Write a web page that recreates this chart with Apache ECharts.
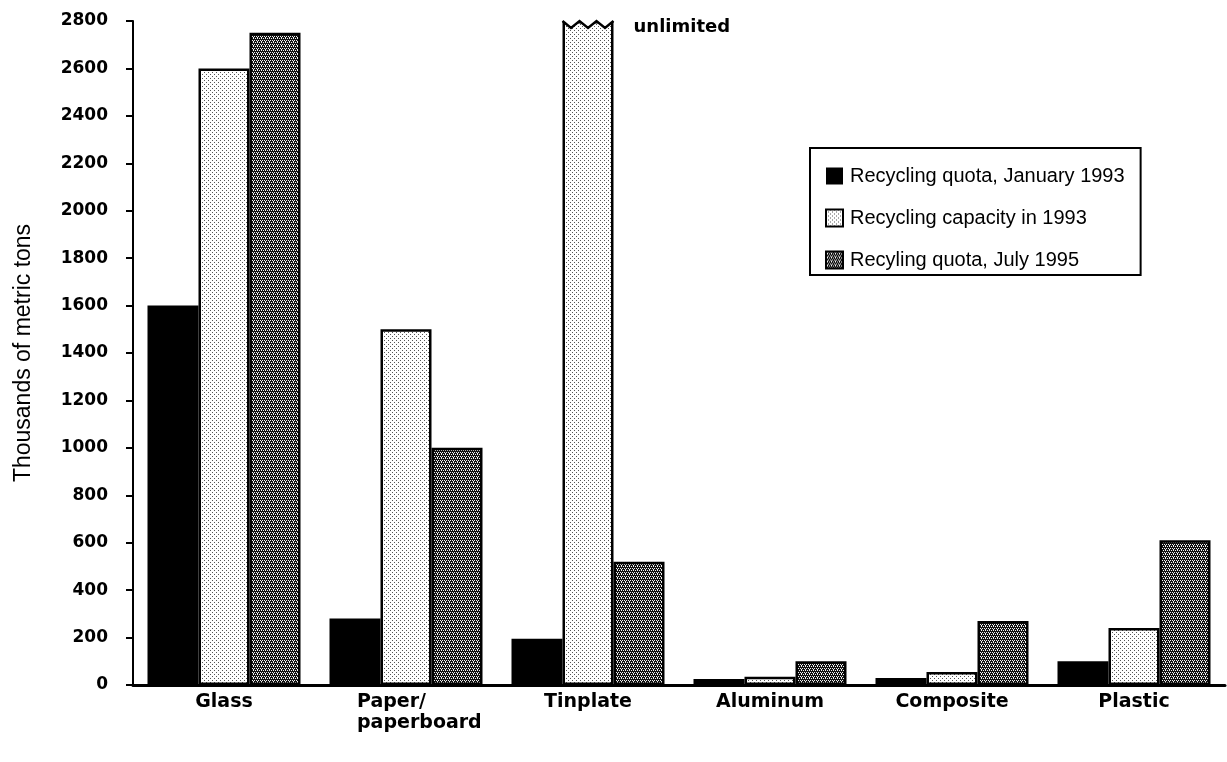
<!DOCTYPE html>
<html>
<head>
<meta charset="utf-8">
<script src="https://cdn.jsdelivr.net/npm/echarts@6/dist/echarts.min.js"></script>
<style>
  html, body { margin: 0; padding: 0; background: #fff; }
  #chart { width: 1227px; height: 762px; }
</style>
</head>
<body>
<div id="chart"></div>
<script>
// Packaging materials: recycling quotas and capacity (thousands of metric tons)
const categories = ['Glass', 'Paper/\npaperboard', 'Tinplate', 'Aluminum', 'Composite', 'Plastic'];
const quotaJan1993 = [1600, 280, 195, 25, 30, 100];
// Tinplate capacity is unlimited: the bar runs to the top of the axis and gets a break mark
const capacity1993 = [2600, 1500, 2800, 35, 55, 240];
const quotaJul1995 = [2750, 1000, 520, 100, 270, 610];
const seriesNames = ['Recycling quota, January 1993', 'Recycling capacity in 1993', 'Recyling quota, July 1995'];
const yTicks = { min: 0, max: 2800, interval: 200 };
const unlimitedCategory = 'Tinplate';
const unlimitedText = 'unlimited';

// Screen-tone fills
function makeTone(size, bg, fg, pts) {
  const c = document.createElement('canvas');
  c.width = size; c.height = size;
  const g = c.getContext('2d');
  g.fillStyle = bg; g.fillRect(0, 0, size, size);
  g.fillStyle = fg;
  pts.forEach(p => g.fillRect(p[0], p[1], 1, 1));
  return { image: c, repeat: 'repeat' };
}
const lightTone = makeTone(4, '#ffffff', '#555555', [[0, 0], [2, 2]]);
const darkTone = makeTone(4, '#111111', '#f2f2f2', [[0, 0], [2, 0], [1, 2], [3, 2], [1, 1]]);

const BAR_W = 51;
const boldFont = '"DejaVu Sans", sans-serif';
const plainFont = '"Liberation Sans", Arial, sans-serif';

const chart = echarts.init(document.getElementById('chart'), null, { renderer: 'canvas' });

const barBase = {
  type: 'bar',
  barWidth: BAR_W,
  barGap: '0%',
  animation: false
};

chart.setOption({
  backgroundColor: '#ffffff',
  animation: false,
  grid: { left: 133, right: 2, top: 21, bottom: 77, containLabel: false },
  legend: {
    data: seriesNames,
    orient: 'vertical',
    left: 810,
    top: 148,
    padding: [18, 16, 5, 15],
    itemGap: 22,
    itemWidth: 17,
    itemHeight: 17,
    borderColor: '#000',
    borderWidth: 2,
    backgroundColor: '#fff',
    icon: 'rect',
    textStyle: { fontFamily: plainFont, fontSize: 20, color: '#000', padding: [0, 0, 0, 2] }
  },
  xAxis: {
    type: 'category',
    data: categories,
    axisLine: { lineStyle: { color: '#000', width: 3 } },
    axisTick: { show: false },
    axisLabel: {
      interval: 0,
      margin: 7,
      color: '#000',
      fontFamily: boldFont,
      fontWeight: 'bold',
      fontSize: 19,
      lineHeight: 21,
      formatter: v => v.indexOf('\n') >= 0 ? v.split('\n').map(s => '{l|' + s + '}').join('\n') : v,
      rich: {
        l: { width: 124, align: 'left', padding: [0, 0, 0, 26], fontFamily: boldFont, fontWeight: 'bold', fontSize: 19, lineHeight: 21, color: '#000' }
      }
    }
  },
  yAxis: {
    type: 'value',
    min: yTicks.min,
    max: yTicks.max,
    interval: yTicks.interval,
    name: 'Thousands of metric tons',
    nameLocation: 'middle',
    nameGap: 98,
    nameRotate: 90,
    nameTextStyle: { fontFamily: plainFont, fontSize: 23, color: '#000' },
    splitLine: { show: false },
    axisLine: { show: true, lineStyle: { color: '#000', width: 2 } },
    axisTick: { show: true, inside: false, length: 7, lineStyle: { color: '#000', width: 2 } },
    axisLabel: {
      margin: 25, color: '#000', fontFamily: boldFont, fontWeight: 'bold', fontSize: 17,
      formatter: v => String(v)
    }
  },
  series: [
    Object.assign({}, barBase, {
      name: seriesNames[0],
      data: quotaJan1993,
      itemStyle: { color: '#000', borderColor: '#000', borderWidth: 0 }
    }),
    Object.assign({}, barBase, {
      name: seriesNames[1],
      data: capacity1993,
      itemStyle: { color: lightTone, borderColor: '#000', borderWidth: 2.5 }
    }),
    Object.assign({}, barBase, {
      name: seriesNames[2],
      data: quotaJul1995,
      itemStyle: { color: darkTone, borderColor: '#000', borderWidth: 2.5 }
    }),
    {
      // break mark on the unlimited capacity bar, plus its note
      type: 'custom',
      name: 'break',
      z: 10,
      silent: true,
      animation: false,
      data: [[unlimitedCategory, capacity1993[categories.indexOf(unlimitedCategory)]]],
      renderItem: function (params, api) {
        const p = api.coord([api.value(0), api.value(1)]);
        const x0 = p[0] - BAR_W / 2, x1 = p[0] + BAR_W / 2, top = p[1];
        const depth = 7;
        const zig = [];
        const n = 3;
        for (let i = 0; i <= n * 2; i++) {
          zig.push([x0 + (x1 - x0) * i / (n * 2), top + (i % 2 ? depth : 0)]);
        }
        const cover = [[x0 - 3, top - 4], [x1 + 3, top - 4], [x1 + 3, top]].concat(zig.slice().reverse());
        cover.push([x0 - 3, top]);
        return {
          type: 'group',
          children: [
            { type: 'polygon', shape: { points: cover }, style: { fill: '#fff', stroke: null } },
            { type: 'polyline', shape: { points: zig }, style: { stroke: '#000', lineWidth: 2.5, fill: null } },
            {
              type: 'text',
              x: x1 + 20,
              y: top + 6,
              style: {
                text: unlimitedText,
                fill: '#000',
                font: 'bold 18px "DejaVu Sans", sans-serif',
                verticalAlign: 'middle',
                align: 'left'
              }
            }
          ]
        };
      }
    }
  ]
});
</script>
</body>
</html>
